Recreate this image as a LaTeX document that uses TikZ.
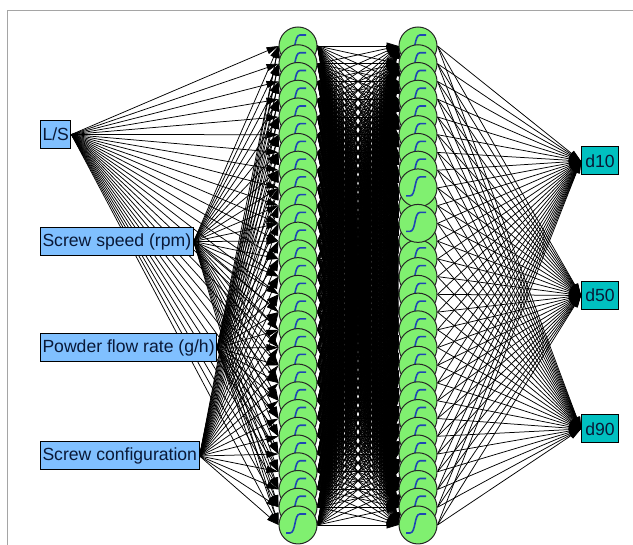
\documentclass[tikz,border=0pt]{standalone}
\usepackage{fontspec}
\setmainfont{Liberation Sans}
\usetikzlibrary{arrows.meta,backgrounds}
\definecolor{inblue}{RGB}{128,192,255}
\definecolor{outcyan}{RGB}{0,192,192}
\definecolor{neugreen}{RGB}{128,240,112}
\definecolor{sigblue}{RGB}{30,70,180}
\definecolor{framegray}{RGB}{165,165,165}
\definecolor{boxtext}{RGB}{10,25,55}
\begin{document}
\begin{tikzpicture}[x=1pt,y=-1pt,
  inbox/.style={draw=black,line width=1pt,fill=inblue,text=boxtext,font=\fontsize{17.6}{20}\selectfont,inner xsep=2pt,inner ysep=0pt,minimum height=28pt,anchor=west},
  outbox/.style={draw=black,line width=1pt,fill=outcyan,text=boxtext,font=\fontsize{17.6}{20}\selectfont,minimum width=37pt,minimum height=28pt,inner sep=1pt,anchor=west},
  neuron/.style={circle,draw=black!85,line width=1pt,fill=neugreen,minimum size=38pt,inner sep=0pt},
  sig/.style={draw=sigblue,line width=1.6pt},
  link/.style={line width=0.75pt,-{Triangle[length=12pt,width=7pt]}},
]
\useasboundingbox (0,0) rectangle (633,545);
\draw[framegray,line width=1pt] (7,545) -- (7,11) -- (633,11);

% inputs
\node[inbox] (ls) at (40,134.5) {L/S};
\node[inbox] (ss) at (40,241.5) {Screw speed (rpm)};
\node[inbox] (pf) at (40,348) {Powder flow rate (g/h)};
\node[inbox] (sc) at (40,456) {Screw configuration};

% outputs
\node[outbox] (d10) at (581,161) {d10};
\node[outbox] (d50) at (581,295.5) {d50};
\node[outbox] (d90) at (581,429) {d90};

% hidden layer 1
\foreach \i in {1,...,28}{
  \pgfmathsetmacro\yy{46+(\i-1)*17.74}
  \node[neuron] (a\i) at (298,\yy) {};
  \draw[sig] ([shift={(-12,8)}]a\i.center) -- ++(4,0) .. controls +(6,0) and +(-6,0) .. ++(10,-19) -- ++(6,0);
}
% hidden layer 2
\foreach \i in {1,2,3,4,5,6,7,8,10,12,13,14,15,16,17,18,19,20,21,22,23,24,25,26,27,28,9,11}{
  \pgfmathsetmacro\yy{46+(\i-1)*17.74}
  \node[neuron] (b\i) at (418,\yy) {};
  \draw[sig] ([shift={(-12,8)}]b\i.center) -- ++(4,0) .. controls +(6,0) and +(-6,0) .. ++(10,-19) -- ++(6,0);
}

\begin{scope}[on background layer]
  \foreach \s in {ls,ss,pf,sc}
    \foreach \i in {1,...,28}
      \draw[link] (\s.east) -- (a\i.west);
  \foreach \i in {1,...,28}
    \foreach \j in {1,...,28}
      \draw[link] (a\i.east) -- (b\j.west);
  \foreach \i in {1,...,28}
    \foreach \o in {d10,d50,d90}
      \draw[link] (b\i.east) -- (\o.west);
\end{scope}
\end{tikzpicture}
\end{document}
